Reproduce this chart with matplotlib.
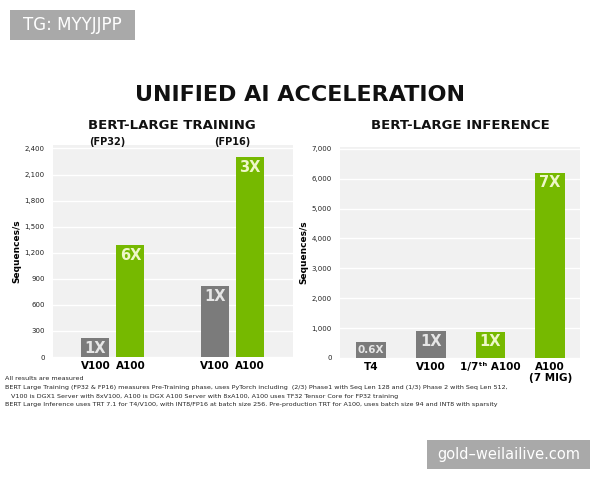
import matplotlib
matplotlib.use("Agg")
import matplotlib.pyplot as plt
from matplotlib.patches import Rectangle
import numpy as np

# --- data ---
train_labels = ["V100", "A100", "V100", "A100"]
train_values = [220, 1290, 820, 2300]
train_ratio = ["1X", "6X", "1X", "3X"]
train_groups = ["(FP32)", "(FP16)"]
train_yticks = [0, 300, 600, 900, 1200, 1500, 1800, 2100, 2400]

infer_labels = ["T4", "V100", "1/7\u1d57\u02b0 A100", "A100\n(7 MIG)"]
infer_values = [520, 900, 880, 6200]
infer_ratio = ["0.6X", "1X", "1X", "7X"]
infer_yticks = [0, 1000, 2000, 3000, 4000, 5000, 6000, 7000]

footnotes = [
    "All results are measured",
    "BERT Large Training (FP32 & FP16) measures Pre-Training phase, uses PyTorch including  (2/3) Phase1 with Seq Len 128 and (1/3) Phase 2 with Seq Len 512,",
    "   V100 is DGX1 Server with 8xV100, A100 is DGX A100 Server with 8xA100, A100 uses TF32 Tensor Core for FP32 training",
    "BERT Large Inference uses TRT 7.1 for T4/V100, with INT8/FP16 at batch size 256. Pre-production TRT for A100, uses batch size 94 and INT8 with sparsity",
]

GREEN = "#76b900"
GREY = "#7b7b7b"
PANEL = "#f1f1f1"
W, H = 600, 480


def px_axes(fig, x0, y_top, x1, y_bot):
    return fig.add_axes([x0 / W, 1 - y_bot / H, (x1 - x0) / W, (y_bot - y_top) / H])


def style_panel(ax, yticks, ylim):
    ax.set_facecolor(PANEL)
    for s in ax.spines.values():
        s.set_visible(False)
    ax.set_ylim(0, ylim)
    ax.set_yticks(yticks)
    ax.set_yticklabels([f"{v:,}" for v in yticks], fontsize=5, color="#222222")
    ax.tick_params(axis="y", length=0, pad=6)
    ax.tick_params(axis="x", length=0, pad=3)
    ax.grid(axis="y", color="white", linewidth=1.0)
    ax.set_axisbelow(True)
    ax.set_ylabel("Sequences/s", fontsize=6.5, fontweight="bold")


def label_bars(ax, xs, vals, texts, colors, sizes):
    for x, v, t, c, s in zip(xs, vals, texts, colors, sizes):
        ax.annotate(t, (x, v), xytext=(0, -2), textcoords="offset points",
                    ha="center", va="top", fontsize=s, fontweight="bold", color=c)


def watermark(fig, x0, y0, x1, y1, text, size):
    fig.patches.append(Rectangle((x0 / W, 1 - y1 / H), (x1 - x0) / W, (y1 - y0) / H,
                                 transform=fig.transFigure, facecolor="#a9a9a9",
                                 edgecolor="none"))
    fig.text((x0 + x1) / 2 / W, 1 - (y0 + y1) / 2 / H, text, ha="center",
             va="center", fontsize=size, color="white")


fig = plt.figure(figsize=(6, 4.8), dpi=100)

# training panel
ax1 = px_axes(fig, 53, 145, 293, 357)
x_train = np.array([0, 1, 3.41, 4.41])
train_colors = [GREY, GREEN, GREY, GREEN]
ax1.bar(x_train, train_values, width=0.8, color=train_colors)
ax1.set_xlim(-1.21, 5.64)
style_panel(ax1, train_yticks, 2440)
ax1.set_xticks(x_train)
ax1.set_xticklabels(train_labels, fontsize=7.5, fontweight="bold")
ax1.yaxis.set_label_coords(-0.13, 0.5)
label_bars(ax1, x_train, train_values, train_ratio,
           ["#e6e6e6", "#eef7c8", "#e6e6e6", "#eef7c8"], [10.5, 10.5, 10.5, 10.5])

# inference panel
ax2 = px_axes(fig, 340, 147, 580, 358)
x_inf = np.arange(len(infer_values))
inf_colors = [GREY, GREY, GREEN, GREEN]
ax2.bar(x_inf, infer_values, width=0.5, color=inf_colors)
ax2.set_xlim(-0.52, 3.5)
style_panel(ax2, infer_yticks, 7060)
ax2.set_xticks(x_inf)
ax2.set_xticklabels(infer_labels, fontsize=7.5, fontweight="bold", linespacing=1.1)
ax2.yaxis.set_label_coords(-0.13, 0.5)
label_bars(ax2, x_inf, infer_values, infer_ratio,
           ["#e6e6e6", "#e6e6e6", "#eef7c8", "#eef7c8"], [7.5, 10.5, 10.5, 10.5])

# titles
fig.text(300 / W, 1 - 95 / H, "UNIFIED AI ACCELERATION", ha="center", va="center",
         fontsize=16, fontweight="bold", color="#111111")
fig.text(172 / W, 1 - 125 / H, "BERT-LARGE TRAINING", ha="center", va="center",
         fontsize=9.5, fontweight="bold", color="#111111")
fig.text(460 / W, 1 - 125 / H, "BERT-LARGE INFERENCE", ha="center", va="center",
         fontsize=9.5, fontweight="bold", color="#111111")
for xp, g in zip([107, 232], train_groups):
    fig.text(xp / W, 1 - 142 / H, g, ha="center", va="center",
             fontsize=7, fontweight="bold", color="#111111")

# footnotes
for i, line in enumerate(footnotes):
    fig.text(5 / W, 1 - (379 + i * 8.6) / H, line, ha="left", va="center",
             fontsize=4.6, color="#222222")

# watermarks
watermark(fig, 10, 10, 135, 40, "TG: MYYJJPP", 12)
watermark(fig, 427, 440, 590, 469, "gold\u2013weilailive.com", 10.5)

fig.savefig("out.png", dpi=100)
